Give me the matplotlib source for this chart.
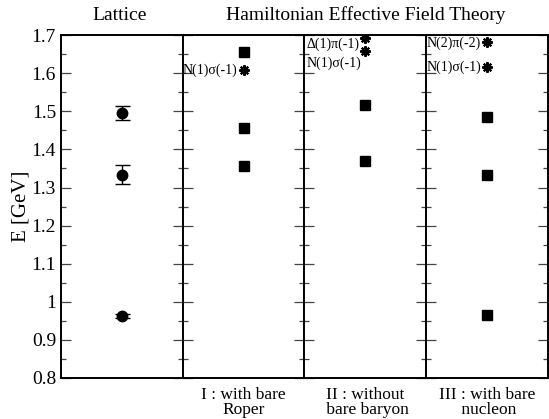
import matplotlib
matplotlib.use("Agg")
import matplotlib.pyplot as plt
from matplotlib.ticker import MultipleLocator

plt.rcParams["font.family"] = ["Liberation Serif", "DejaVu Serif"]
plt.rcParams["mathtext.fontset"] = "stix"

# lattice levels with errors
lat_E = [1.495, 1.334, 0.963]
lat_err = [0.018, 0.025, 0.005]

# HEFT eigenvalues per scenario
heft_E = {
    1: [1.655, 1.457, 1.356],
    2: [1.518, 1.370],
    3: [1.485, 1.333, 0.965],
}
# non-interacting basis states
free_E = {
    1: [1.608],
    2: [1.693, 1.659],
    3: [1.681, 1.617],
}
panel_names = ["I : with bare\nRoper", "II : without\n bare baryon", "III : with bare\n nucleon"]

fig, axes = plt.subplots(1, 4, sharey=True, figsize=(5.49, 4.19), dpi=100)
fig.subplots_adjust(left=0.111, right=0.998, top=0.916, bottom=0.098, wspace=0)

for ax in axes:
    ax.set_xlim(0, 1)
    ax.set_ylim(0.8, 1.7)
    ax.set_xticks([])
    ax.yaxis.set_major_locator(MultipleLocator(0.1))
    ax.yaxis.set_minor_locator(MultipleLocator(0.05))
    ax.tick_params(axis="y", which="both", direction="in", left=True, right=True,
                   width=0.9, color="#444444")
    ax.tick_params(axis="y", which="major", length=7.2, labelsize=14)
    ax.tick_params(axis="y", which="minor", length=3.6)
    for s in ax.spines.values():
        s.set_linewidth(1.4)

axes[0].set_yticks([0.8, 0.9, 1.0, 1.1, 1.2, 1.3, 1.4, 1.5, 1.6, 1.7])
axes[0].set_yticklabels(["0.8", "0.9", "1", "1.1", "1.2", "1.3", "1.4", "1.5", "1.6", "1.7"])
axes[0].set_ylabel("E [GeV]", fontsize=15, labelpad=1)

axes[0].errorbar([0.5] * len(lat_E), lat_E, yerr=lat_err, fmt="o", color="black",
                 ms=7.5, capsize=5.4, elinewidth=1, capthick=1)

for i in (1, 2, 3):
    ax = axes[i]
    ax.plot([0.5] * len(heft_E[i]), heft_E[i], "s", color="black", ms=6.5)
    ax.plot([0.5] * len(free_E[i]), free_E[i], marker=(8, 2, 0), color="black",
            ms=7.5, mew=1.5, ls="none")
    ax.text(0.5, -0.025, panel_names[i - 1], transform=ax.transAxes, ha="center",
            va="top", fontsize=12.5, linespacing=0.95)

# basis-state labels
axes[1].text(0.45, 1.608, "N(1)σ(-1)", ha="right", va="center", fontsize=10)
axes[2].text(0.015, 1.677, "Δ(1)π(-1)", ha="left", va="center", fontsize=10)
axes[2].text(0.015, 1.627, "N(1)σ(-1)", ha="left", va="center", fontsize=10)
axes[3].text(0.45, 1.679, "N(2)π(-2)", ha="right", va="center", fontsize=10)
axes[3].text(0.45, 1.617, "N(1)σ(-1)", ha="right", va="center", fontsize=10)

fig.text(0.218, 0.964, "Lattice", ha="center", va="center", fontsize=14)
fig.text(0.666, 0.964, "Hamiltonian Effective Field Theory", ha="center", va="center",
         fontsize=14)

fig.savefig("out.png", dpi=100)
